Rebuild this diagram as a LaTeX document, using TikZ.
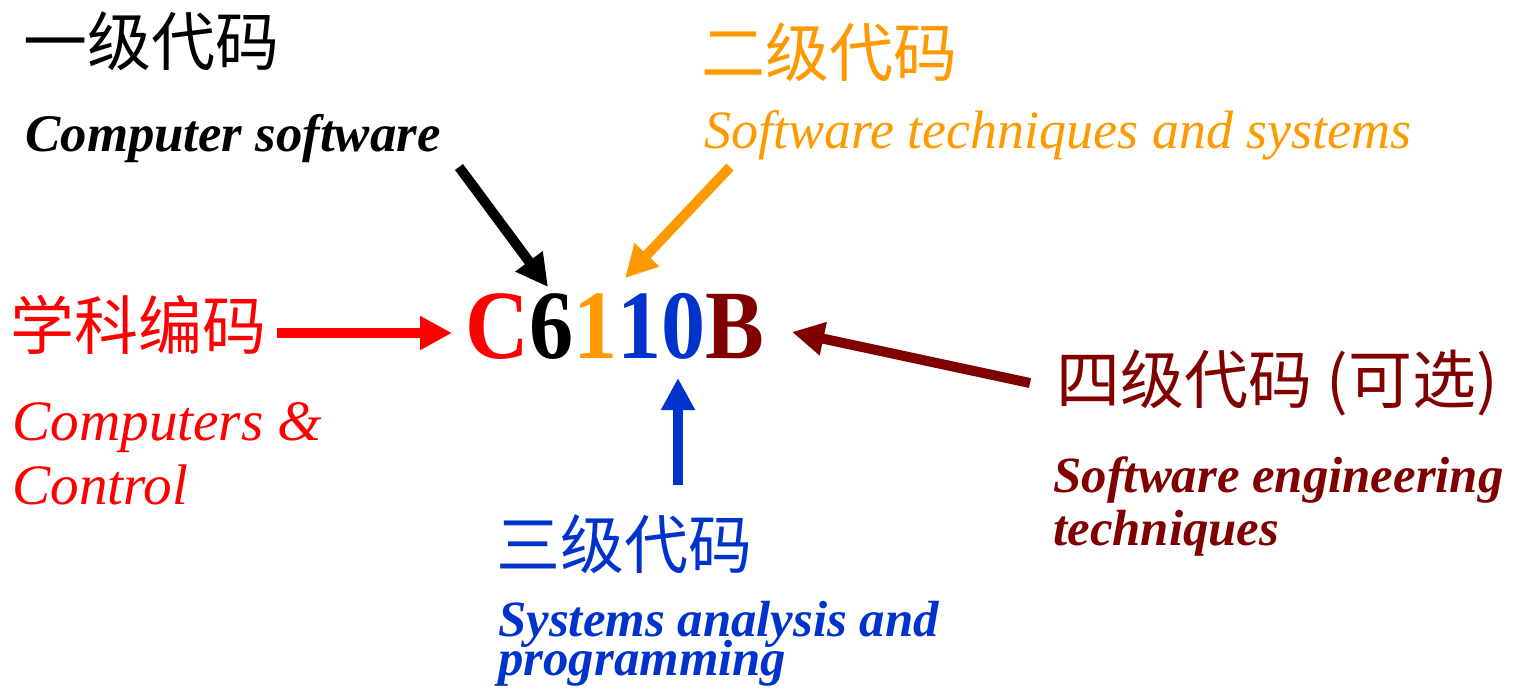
\documentclass[tikz,border=0pt]{standalone}
\usepackage{fontspec}
\setmainfont{Liberation Serif}
\newfontfamily\cjk{Noto Sans CJK SC}
\usetikzlibrary{arrows.meta}
\definecolor{cRed}{HTML}{FF0000}
\definecolor{cOrange}{HTML}{FF9900}
\definecolor{cBlue}{HTML}{0033CC}
\definecolor{cDark}{HTML}{800000}
\begin{document}
\begin{tikzpicture}[x=0.5pt,y=-0.5pt,
  zh/.style={inner sep=0, anchor=west, font=\cjk\fontsize{32}{38}\selectfont},
  en/.style={inner sep=0, anchor=base west, font=\fontsize{27}{32}\selectfont\itshape},
  enr/.style={inner sep=0, anchor=base west, font=\fontsize{28.6}{32}\selectfont\itshape},
  enb/.style={inner sep=0, anchor=base west, font=\fontsize{26.4}{32}\selectfont\bfseries\itshape},
  enbs/.style={inner sep=0, anchor=base west, font=\fontsize{25.4}{32}\selectfont\bfseries\itshape},
  arr/.style={line width=5pt, -{Triangle[width=16pt,length=16pt]}}]
\useasboundingbox (0,0) rectangle (1513,692);
% central code
\node[anchor=base, inner sep=0, font=\fontsize{49}{56}\selectfont\bfseries] (code) at (615,358)
  {\scalebox{0.9}[1]{\textcolor{cRed}{C}6\textcolor{cOrange}{1}\textcolor{cBlue}{10}\textcolor{cDark}{B}}};
% level 1
\node[zh] (l1) at (23,41) {一级代码};
\node[enb] (l1e) at (25,151) {Computer software};
% level 2
\node[zh, text=cOrange] (l2) at (701,52) {二级代码};
\node[en, text=cOrange] (l2e) at (704,148) {Software techniques and systems};
% subject
\node[zh, text=cRed] (s) at (10,325) {学科编码};
\node[enr, text=cRed] (se1) at (12,440) {Computers \&};
\node[enr, text=cRed] (se2) at (12,504) {Control};
% level 3
\node[zh, text=cBlue] (l3) at (496,544) {三级代码};
\node[enbs, text=cBlue] (l3e1) at (498,636) {Systems analysis and};
\node[enbs, text=cBlue] (l3e2) at (498,675) {programming};
% level 4
\node[zh, text=cDark] (l4) at (1056,383) {四级代码 (可选)};
\node[enbs, text=cDark] (l4e1) at (1053,492) {Software engineering};
\node[enbs, text=cDark] (l4e2) at (1053,545) {techniques};
% arrow end points
\coordinate (a1s) at (459,167); \coordinate (a1e) at (548,287);
\coordinate (a2s) at (730,167); \coordinate (a2e) at (625,278);
\coordinate (a3s) at (277,333); \coordinate (a3e) at (452,333);
\coordinate (a4s) at (678,485); \coordinate (a4e) at (678,378);
\coordinate (a5s) at (1030,383); \coordinate (a5e) at (792,332);
\draw[arr, black] (a1s) -- (a1e);
\draw[arr, cOrange] (a2s) -- (a2e);
\draw[arr, cRed] (a3s) -- (a3e);
\draw[arr, cBlue] (a4s) -- (a4e);
\draw[arr, cDark] (a5s) -- (a5e);
\end{tikzpicture}
\end{document}
